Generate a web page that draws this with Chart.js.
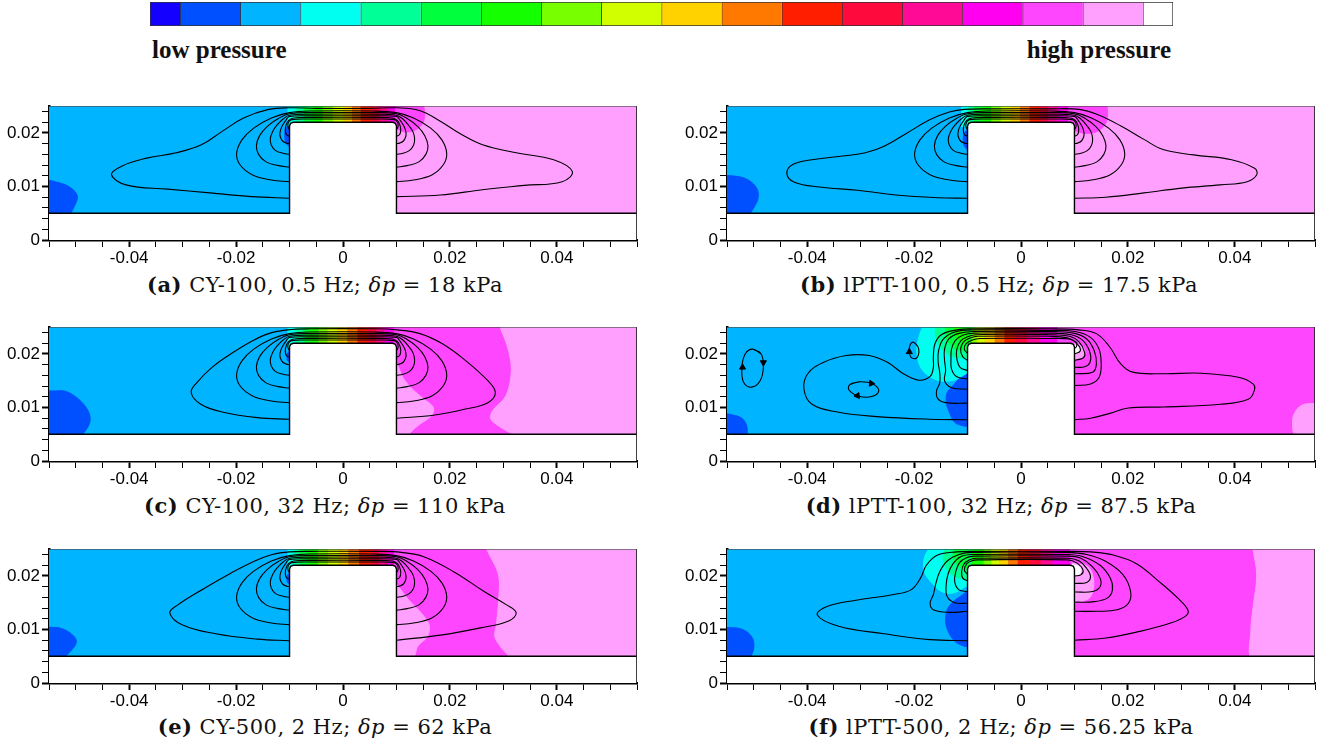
<!DOCTYPE html>
<html>
<head>
<meta charset="utf-8">
<title>Pressure contours and streamlines</title>
<script src="https://cdn.jsdelivr.net/npm/chart.js"></script>
<style>
  body { margin:0; background:#fff; width:1331px; height:755px; position:relative; overflow:hidden; }
  canvas { position:absolute; }
  .end { position:absolute; top:37px; font-family:'Liberation Serif', serif; font-weight:bold; font-size:25px; line-height:25px; color:#111; white-space:nowrap; }
  .cap { position:absolute; font-family:'DejaVu Serif', serif; font-size:21px; line-height:24px; letter-spacing:0.5px; color:#111; white-space:nowrap; transform:translateX(-50%); }
  .cap i { font-style:italic; }
</style>
</head>
<body>
<canvas id="bar" width="1023" height="24" style="left:150px;top:2px"></canvas>
<div class="end" style="left:152px">low pressure</div>
<div class="end" style="right:160px">high pressure</div>

<canvas id="pa" width="647" height="176"></canvas>
<canvas id="pb" width="647" height="176"></canvas>
<canvas id="pc" width="647" height="176"></canvas>
<canvas id="pd" width="647" height="176"></canvas>
<canvas id="pe" width="647" height="176"></canvas>
<canvas id="pf" width="647" height="176"></canvas>

<div class="cap" style="left:325px;top:273px"><b>(a)</b> CY-100, 0.5 Hz; <i>δp</i> = 18 kPa</div>
<div class="cap" style="left:999px;top:273px"><b>(b)</b> lPTT-100, 0.5 Hz; <i>δp</i> = 17.5 kPa</div>
<div class="cap" style="left:325px;top:494px"><b>(c)</b> CY-100, 32 Hz; <i>δp</i> = 110 kPa</div>
<div class="cap" style="left:1001px;top:494px"><b>(d)</b> lPTT-100, 32 Hz; <i>δp</i> = 87.5 kPa</div>
<div class="cap" style="left:325px;top:715px"><b>(e)</b> CY-500, 2 Hz; <i>δp</i> = 62 kPa</div>
<div class="cap" style="left:1001px;top:715px"><b>(f)</b> lPTT-500, 2 Hz; <i>δp</i> = 56.25 kPa</div>

<script>
// ---------------- levels ----------------
const levelColors = ['#1400ff','#0050ff','#00b4ff','#00fff0','#00ff96','#00ff3c','#14ff00','#78ff00','#d2ff00',
                     '#ffd200','#ff7800','#ff1e00','#ff0a3c','#ff0a96','#ff00f0','#ff46ff','#ffa0ff','#ffffff'];
const levelSpan = [0.5,1,1,1,1,1,1,1,1,1,1,1,1,1,1,1,1,0.5];

// ---------------- axes ----------------
const xTickValues = [-0.04, -0.02, 0, 0.02, 0.04];
const xTickLabels = ['-0.04', '-0.02', '0', '0.02', '0.04'];
const yTickValues = [0, 0.01, 0.02];
const yTickLabels = ['0', '0.01', '0.02'];

// channel wall + block (x, y pairs, metres)
const solidShape = [-0.056,-0.001, -0.056,0.005, -0.0100,0.005, -0.0100,0.0213, -0.0098,0.0218, -0.0093,0.0220,
                    0.0093,0.0220, 0.0098,0.0218, 0.0100,0.0213, 0.0100,0.005, 0.056,0.005, 0.056,-0.001];
const frameLine = [-0.055,0.025, 0.055,0.025, 0.055,0];

// ---------------- streamlines ----------------
// nested loops around the block, same in a, b, c, e
const innerLoops = [
  [-0.0100,0.0109, -0.0134,0.0112, -0.0170,0.0122, -0.0193,0.0141, -0.0199,0.0162, -0.0189,0.0187, -0.0167,0.0209, -0.0134,0.0228, -0.0100,0.0238, -0.0056,0.0241,
    0.0056,0.0241, 0.0100,0.0238, 0.0132,0.0228, 0.0164,0.0209, 0.0185,0.0187, 0.0194,0.0162, 0.0188,0.0141, 0.0167,0.0122, 0.0132,0.0112, 0.0100,0.0109],
  [-0.0100,0.0136, -0.0121,0.0139, -0.0144,0.0146, -0.0158,0.0160, -0.0162,0.0176, -0.0156,0.0195, -0.0142,0.0212, -0.0121,0.0227, -0.0100,0.0236, -0.0056,0.0238,
    0.0056,0.0238, 0.0100,0.0236, 0.0120,0.0227, 0.0140,0.0212, 0.0153,0.0195, 0.0159,0.0176, 0.0155,0.0160, 0.0142,0.0146, 0.0120,0.0139, 0.0100,0.0136],
  [-0.0100,0.0160, -0.0112,0.0162, -0.0126,0.0167, -0.0134,0.0177, -0.0136,0.0189, -0.0132,0.0202, -0.0124,0.0214, -0.0112,0.0226, -0.0100,0.0233, -0.0056,0.0235,
    0.0056,0.0235, 0.0100,0.0233, 0.0112,0.0226, 0.0123,0.0214, 0.0131,0.0202, 0.0134,0.0189, 0.0132,0.0177, 0.0124,0.0167, 0.0112,0.0162, 0.0100,0.0160],
  [-0.0100,0.0180, -0.0106,0.0181, -0.0113,0.0185, -0.0117,0.0192, -0.0118,0.0199, -0.0116,0.0208, -0.0112,0.0216, -0.0106,0.0225, -0.0100,0.0231, -0.0056,0.0232,
    0.0056,0.0232, 0.0100,0.0231, 0.0106,0.0225, 0.0112,0.0216, 0.0116,0.0208, 0.0118,0.0199, 0.0117,0.0192, 0.0113,0.0185, 0.0106,0.0181, 0.0100,0.0180],
  [-0.0100,0.0194, -0.0106,0.0197, -0.0108,0.0206, -0.0106,0.0216, -0.0101,0.0224, -0.0092,0.0228, -0.0056,0.0229,
    0.0056,0.0229, 0.0092,0.0228, 0.0101,0.0224, 0.0106,0.0216, 0.0108,0.0206, 0.0106,0.0197, 0.0100,0.0194],
  [-0.0100,0.0206, -0.0103,0.0212, -0.0102,0.0220, -0.0096,0.0225, -0.0056,0.0226,
    0.0056,0.0226, 0.0096,0.0225, 0.0102,0.0220, 0.0103,0.0212, 0.0100,0.0206]
];

const outerLoopA = [-0.0100,0.0078, -0.0171,0.0081, -0.0249,0.0088, -0.0328,0.0095, -0.0406,0.0103, -0.0433,0.0122, -0.0414,0.0138, -0.0367,0.0153,
  -0.0312,0.0163, -0.0265,0.0178, -0.0226,0.0203, -0.0186,0.0228, -0.0139,0.0244, -0.0100,0.0247, -0.0050,0.0246, 0.0050,0.0246, 0.0100,0.0247,
  0.0143,0.0242, 0.0182,0.0222, 0.0222,0.0197, 0.0261,0.0178, 0.0324,0.0163, 0.0394,0.0150, 0.0429,0.0128, 0.0410,0.0109, 0.0339,0.0102,
  0.0261,0.0094, 0.0182,0.0084, 0.0100,0.0081];

const outerLoopB = [-0.0100,0.0078, -0.0156,0.0079, -0.0234,0.0084, -0.0306,0.0093, -0.0377,0.0099, -0.0424,0.0108, -0.0438,0.0124, -0.0427,0.0141,
  -0.0391,0.0150, -0.0341,0.0156, -0.0291,0.0163, -0.0256,0.0175, -0.0213,0.0200, -0.0170,0.0225, -0.0134,0.0239, -0.0106,0.0244, -0.0056,0.0245,
  0.0051,0.0245, 0.0109,0.0244, 0.0144,0.0234, 0.0187,0.0213, 0.0230,0.0188, 0.0266,0.0169, 0.0323,0.0159, 0.0394,0.0150, 0.0437,0.0134,
  0.0441,0.0122, 0.0423,0.0109, 0.0373,0.0103, 0.0301,0.0097, 0.0230,0.0088, 0.0159,0.0080, 0.0100,0.0078];

const outerLoopC = [-0.0100,0.0078, -0.0160,0.0081, -0.0224,0.0091, -0.0266,0.0106, -0.0284,0.0128, -0.0273,0.0147, -0.0245,0.0175, -0.0210,0.0200,
  -0.0174,0.0222, -0.0139,0.0238, -0.0104,0.0245, -0.0061,0.0247, 0.0059,0.0247, 0.0101,0.0245, 0.0144,0.0238, 0.0186,0.0219, 0.0229,0.0188,
  0.0271,0.0150, 0.0285,0.0128, 0.0271,0.0109, 0.0229,0.0097, 0.0172,0.0086, 0.0100,0.0080];

const outerLoopE = [-0.0100,0.0079, -0.0160,0.0082, -0.0238,0.0092, -0.0301,0.0109, -0.0324,0.0131, -0.0309,0.0146, -0.0259,0.0177, -0.0210,0.0205,
  -0.0167,0.0227, -0.0132,0.0240, -0.0100,0.0245, -0.0061,0.0246, 0.0066,0.0246, 0.0109,0.0244, 0.0151,0.0236, 0.0207,0.0208, 0.0264,0.0171,
  0.0306,0.0146, 0.0324,0.0131, 0.0310,0.0116, 0.0257,0.0103, 0.0186,0.0090, 0.0100,0.0080];

const loopsD = [
  [-0.0100,0.0077, -0.0170,0.0078, -0.0270,0.0083, -0.0341,0.0091, -0.0391,0.0106, -0.0406,0.0134, -0.0399,0.0163, -0.0370,0.0184, -0.0327,0.0197,
   -0.0284,0.0197, -0.0249,0.0184, -0.0220,0.0163, -0.0191,0.0151, -0.0170,0.0158, -0.0164,0.0175, -0.0164,0.0194, -0.0161,0.0219, -0.0149,0.0236,
   -0.0120,0.0245, -0.0091,0.0247, 0.0051,0.0247, 0.0108,0.0245, 0.0141,0.0238, 0.0166,0.0213, 0.0187,0.0181, 0.0209,0.0166, 0.0266,0.0163,
   0.0337,0.0164, 0.0409,0.0156, 0.0434,0.0144, 0.0437,0.0134, 0.0426,0.0116, 0.0373,0.0106, 0.0266,0.0101, 0.0201,0.0099, 0.0166,0.0089,
   0.0130,0.0080, 0.0100,0.0077],
  [-0.0100,0.0108, -0.0141,0.0109, -0.0156,0.0117, -0.0158,0.0131, -0.0152,0.0146, -0.0152,0.0165, -0.0155,0.0185, -0.0154,0.0207, -0.0145,0.0228,
   -0.0124,0.0241, -0.0091,0.0245, 0.0051,0.0244, 0.0101,0.0242, 0.0130,0.0231, 0.0146,0.0209, 0.0150,0.0181, 0.0146,0.0156, 0.0130,0.0144, 0.0100,0.0141],
  [-0.0100,0.0134, -0.0130,0.0137, -0.0143,0.0150, -0.0141,0.0169, -0.0143,0.0188, -0.0143,0.0209, -0.0135,0.0228, -0.0118,0.0238, -0.0091,0.0242,
   0.0051,0.0242, 0.0098,0.0239, 0.0123,0.0228, 0.0137,0.0206, 0.0141,0.0181, 0.0134,0.0166, 0.0100,0.0163],
  [-0.0100,0.0153, -0.0121,0.0158, -0.0130,0.0172, -0.0131,0.0191, -0.0130,0.0209, -0.0123,0.0225, -0.0109,0.0235, -0.0088,0.0239,
   0.0051,0.0239, 0.0094,0.0236, 0.0116,0.0225, 0.0129,0.0203, 0.0129,0.0184, 0.0119,0.0176, 0.0100,0.0175],
  [-0.0100,0.0169, -0.0114,0.0175, -0.0120,0.0191, -0.0120,0.0209, -0.0113,0.0224, -0.0100,0.0232, -0.0084,0.0236,
   0.0051,0.0236, 0.0091,0.0233, 0.0109,0.0222, 0.0119,0.0203, 0.0117,0.0193, 0.0100,0.0188],
  [-0.0100,0.0188, -0.0109,0.0195, -0.0113,0.0209, -0.0107,0.0223, -0.0095,0.0230, -0.0081,0.0233,
   0.0051,0.0233, 0.0087,0.0230, 0.0105,0.0219, 0.0111,0.0206, 0.0100,0.0200],
  [-0.0100,0.0201, -0.0106,0.0209, -0.0103,0.0219, -0.0091,0.0226, -0.0077,0.0229,
   0.0051,0.0229, 0.0090,0.0228, 0.0103,0.0222, 0.0104,0.0214, 0.0100,0.0210],
  // recirculation cells
  [-0.0502,0.0209, -0.0486,0.0200, -0.0482,0.0175, -0.0488,0.0150, -0.0504,0.0138, -0.0519,0.0147, -0.0522,0.0175, -0.0516,0.0200, -0.0502,0.0209, -0.0486,0.0200],
  [-0.0201,0.0222, -0.0193,0.0214, -0.0191,0.0203, -0.0196,0.0192, -0.0206,0.0194, -0.0209,0.0206, -0.0207,0.0218, -0.0201,0.0222, -0.0193,0.0214],
  [-0.0320,0.0143, -0.0302,0.0148, -0.0277,0.0144, -0.0266,0.0131, -0.0281,0.0120, -0.0306,0.0122, -0.0322,0.0133, -0.0320,0.0143, -0.0302,0.0148]
];
// arrow heads on the cells: x, y, rotation (deg)
const arrowsD = [[-0.0521,0.0175,0], [-0.0482,0.0184,180], [-0.0209,0.0204,0], [-0.0306,0.0122,-95], [-0.0280,0.0145,95]];

const loopsF = [
  [-0.0100,0.0079, -0.0170,0.0081, -0.0256,0.0092, -0.0341,0.0106, -0.0381,0.0127, -0.0363,0.0143, -0.0306,0.0155, -0.0241,0.0165, -0.0206,0.0174,
   -0.0188,0.0196, -0.0177,0.0220, -0.0156,0.0239, -0.0120,0.0245, -0.0080,0.0246, 0.0087,0.0246, 0.0130,0.0245, 0.0173,0.0239, 0.0216,0.0223,
   0.0259,0.0189, 0.0294,0.0158, 0.0312,0.0137, 0.0309,0.0126, 0.0280,0.0112, 0.0216,0.0095, 0.0159,0.0084, 0.0100,0.0080],
  [-0.0100,0.0134, -0.0134,0.0132, -0.0164,0.0137, -0.0170,0.0149, -0.0164,0.0165, -0.0159,0.0187, -0.0152,0.0208, -0.0138,0.0228, -0.0116,0.0240,
   -0.0091,0.0244, 0.0087,0.0244, 0.0123,0.0240, 0.0159,0.0227, 0.0191,0.0202, 0.0205,0.0171, 0.0201,0.0149, 0.0180,0.0137, 0.0144,0.0134, 0.0100,0.0134],
  [-0.0100,0.0149, -0.0124,0.0150, -0.0138,0.0161, -0.0140,0.0183, -0.0136,0.0205, -0.0127,0.0223, -0.0113,0.0236, -0.0091,0.0240,
   0.0087,0.0240, 0.0116,0.0236, 0.0148,0.0220, 0.0167,0.0196, 0.0171,0.0174, 0.0162,0.0159, 0.0137,0.0152, 0.0100,0.0151],
  [-0.0100,0.0171, -0.0116,0.0174, -0.0124,0.0189, -0.0122,0.0208, -0.0115,0.0225, -0.0102,0.0234, -0.0088,0.0237,
   0.0087,0.0237, 0.0112,0.0233, 0.0134,0.0217, 0.0148,0.0196, 0.0148,0.0180, 0.0134,0.0171, 0.0100,0.0170],
  [-0.0100,0.0191, -0.0109,0.0196, -0.0111,0.0208, -0.0107,0.0222, -0.0097,0.0230, -0.0084,0.0233,
   0.0087,0.0233, 0.0109,0.0228, 0.0123,0.0214, 0.0130,0.0199, 0.0123,0.0188, 0.0100,0.0186],
  [-0.0100,0.0203, -0.0106,0.0211, -0.0102,0.0222, -0.0093,0.0228, -0.0081,0.0230,
   0.0087,0.0230, 0.0105,0.0224, 0.0116,0.0211, 0.0112,0.0202, 0.0100,0.0200]
];

// ---------------- pressure fill ----------------
// base colour left / right of the block (level numbers 1..18)
const baseA = [3, 17], baseB = [3, 17], baseC = [3, 17], baseD = [3, 16], baseE = [3, 17], baseF = [3, 16];

// vertical colour bands across the gap above the block: first level, band edges in x
const gapA = { first: 4, edges: [-0.0104,-0.0088,-0.0074,-0.0057,-0.0038,-0.0019,0.0000,0.0017,0.0033,0.0052,0.0069,0.0085,0.0100] };
const gapB = { first: 4, edges: [-0.0112,-0.0099,-0.0088,-0.0074,-0.0056,-0.0038,-0.0020,-0.0002,0.0016,0.0034,0.0051,0.0069,0.0091] };
const gapC = { first: 4, edges: [-0.0104,-0.0089,-0.0075,-0.0062,-0.0046,-0.0029,-0.0011,0.0008,0.0027,0.0047,0.0063,0.0078,0.0095] };
const gapD = { first: 8, edges: [-0.0100,-0.0083,-0.0068,-0.0049,-0.0031,-0.0012,0.0011,0.0036,0.0067] };
const gapE = { first: 4, edges: [-0.0104,-0.0093,-0.0082,-0.0065,-0.0047,-0.0028,-0.0008,0.0010,0.0030,0.0052,0.0068,0.0084,0.0099] };
const gapF = { first: 7, edges: [-0.0097,-0.0070,-0.0056,-0.0041,-0.0024,-0.0006,0.0016,0.0037,0.0059,0.0091] };

// contour patches: [level, outline]
const patchesA = [
  [2, [-0.0560,0.0045, -0.0560,0.0109, -0.0535,0.0108, -0.0510,0.0098, -0.0497,0.0082, -0.0503,0.0062, -0.0512,0.0045]],
  [2, [-0.0095,0.0216, -0.0106,0.0210, -0.0109,0.0195, -0.0106,0.0180, -0.0095,0.0172]],
  [16, [0.0099,0.0255, 0.0099,0.0212, 0.0108,0.0204, 0.0122,0.0202, 0.0138,0.0207, 0.0149,0.0218, 0.0153,0.0235, 0.0150,0.0255]]
];
const patchesB = [
  [2, [-0.0560,0.0045, -0.0560,0.0116, -0.0533,0.0119, -0.0510,0.0112, -0.0494,0.0096, -0.0492,0.0078, -0.0500,0.0060, -0.0510,0.0045]],
  [2, [-0.0095,0.0206, -0.0104,0.0203, -0.0108,0.0190, -0.0106,0.0175, -0.0095,0.0165]],
  [16, [0.0090,0.0255, 0.0090,0.0212, 0.0105,0.0203, 0.0125,0.0199, 0.0145,0.0204, 0.0158,0.0217, 0.0162,0.0235, 0.0160,0.0255]]
];
const patchesC = [
  [2, [-0.0560,0.0045, -0.0560,0.0126, -0.0535,0.0131, -0.0518,0.0130, -0.0495,0.0116, -0.0476,0.0092, -0.0474,0.0071, -0.0490,0.0045]],
  [2, [-0.0095,0.0206, -0.0103,0.0203, -0.0105,0.0195, -0.0103,0.0187, -0.0095,0.0184]],
  [16, [0.0095,0.0255, 0.0292,0.0255, 0.0292,0.0250, 0.0306,0.0213, 0.0313,0.0169, 0.0303,0.0122, 0.0278,0.0094, 0.0275,0.0078, 0.0292,0.0063, 0.0317,0.0045, 0.0095,0.0045]],
  [17, [0.0095,0.0183, 0.0101,0.0181, 0.0112,0.0156, 0.0130,0.0134, 0.0151,0.0116, 0.0169,0.0100, 0.0165,0.0084, 0.0144,0.0069, 0.0126,0.0053, 0.0124,0.0045, 0.0095,0.0045]]
];
const patchesD = [
  [2, [-0.0560,0.0045, -0.0560,0.0086, -0.0535,0.0085, -0.0520,0.0078, -0.0513,0.0065, -0.0512,0.0045]],
  [2, [-0.0095,0.0165, -0.0113,0.0156, -0.0127,0.0141, -0.0138,0.0128, -0.0140,0.0110, -0.0134,0.0091, -0.0124,0.0072, -0.0109,0.0066, -0.0095,0.0064]],
  [4, [-0.0182,0.0255, -0.0190,0.0235, -0.0195,0.0205, -0.0186,0.0172, -0.0160,0.0152, -0.0130,0.0150, -0.0108,0.0160, -0.0095,0.0172, -0.0095,0.0255]],
  [5, [-0.0160,0.0255, -0.0160,0.0235, -0.0152,0.0215, -0.0137,0.0200, -0.0118,0.0193, -0.0095,0.0198, -0.0095,0.0255]],
  [6, [-0.0142,0.0255, -0.0140,0.0232, -0.0130,0.0215, -0.0115,0.0207, -0.0095,0.0210, -0.0095,0.0255]],
  [7, [-0.0125,0.0255, -0.0123,0.0236, -0.0114,0.0225, -0.0100,0.0221, -0.0100,0.0255]],
  [17, [0.0095,0.0219, 0.0108,0.0218, 0.0117,0.0211, 0.0119,0.0200, 0.0112,0.0192, 0.0095,0.0190]],
  [18, [0.0095,0.0216, 0.0106,0.0214, 0.0109,0.0207, 0.0104,0.0201, 0.0095,0.0200]],
  [17, [0.0560,0.0045, 0.0515,0.0045, 0.0508,0.0075, 0.0515,0.0095, 0.0530,0.0106, 0.0560,0.0107]]
];
const patchesE = [
  [2, [-0.0560,0.0045, -0.0560,0.0102, -0.0545,0.0104, -0.0524,0.0101, -0.0503,0.0087, -0.0499,0.0075, -0.0510,0.0059, -0.0524,0.0045]],
  [2, [-0.0095,0.0206, -0.0103,0.0203, -0.0105,0.0195, -0.0103,0.0187, -0.0095,0.0184]],
  [16, [0.0095,0.0255, 0.0267,0.0255, 0.0267,0.0250, 0.0289,0.0202, 0.0289,0.0152, 0.0285,0.0109, 0.0282,0.0087, 0.0292,0.0069, 0.0308,0.0045, 0.0095,0.0045]],
  [17, [0.0095,0.0185, 0.0101,0.0183, 0.0123,0.0155, 0.0147,0.0130, 0.0161,0.0109, 0.0158,0.0087, 0.0140,0.0069, 0.0130,0.0045, 0.0095,0.0045]]
];
const patchesF = [
  [2, [-0.0560,0.0045, -0.0560,0.0099, -0.0535,0.0103, -0.0515,0.0097, -0.0502,0.0083, -0.0500,0.0065, -0.0507,0.0045]],
  [2, [-0.0095,0.0177, -0.0109,0.0165, -0.0127,0.0152, -0.0138,0.0137, -0.0141,0.0115, -0.0136,0.0096, -0.0124,0.0078, -0.0107,0.0069, -0.0095,0.0067]],
  [4, [-0.0170,0.0255, -0.0181,0.0233, -0.0181,0.0208, -0.0166,0.0186, -0.0149,0.0171, -0.0127,0.0168, -0.0109,0.0177, -0.0095,0.0189, -0.0095,0.0255]],
  [5, [-0.0141,0.0255, -0.0146,0.0235, -0.0140,0.0215, -0.0125,0.0200, -0.0108,0.0195, -0.0095,0.0197, -0.0095,0.0255]],
  [6, [-0.0125,0.0255, -0.0127,0.0236, -0.0120,0.0222, -0.0108,0.0213, -0.0097,0.0212, -0.0097,0.0255]],
  [17, [0.0434,0.0255, 0.0434,0.0250, 0.0441,0.0202, 0.0434,0.0140, 0.0430,0.0097, 0.0434,0.0045, 0.0560,0.0045, 0.0560,0.0255]],
  [17, [0.0095,0.0224, 0.0126,0.0217, 0.0136,0.0189, 0.0130,0.0161, 0.0112,0.0152, 0.0095,0.0149]],
  [18, [0.0095,0.0221, 0.0108,0.0218, 0.0112,0.0210, 0.0108,0.0203, 0.0095,0.0202]]
];

// ---------------- helpers ----------------
function pts(flat) {
  const out = [];
  for (let i = 0; i < flat.length; i += 2) out.push({ x: flat[i], y: flat[i + 1] });
  return out;
}
function area(flat, level, tension) {
  const c = levelColors[level - 1];
  return { data: pts(flat), showLine: true, fill: 'shape', backgroundColor: c, borderColor: c,
           borderWidth: 1, pointRadius: 0, tension: tension };
}
function curve(flat, width) {
  return { data: pts(flat), showLine: true, fill: false, borderColor: '#000', borderWidth: width,
           pointRadius: 0, tension: 0.4 };
}
function rect(x0, x1, y0, y1) { return [x0, y0, x1, y0, x1, y1, x0, y1]; }
function near(list, v) { return list.findIndex(t => Math.abs(t - v) < 1e-6); }

const tickFont = { family: 'Liberation Sans', size: 17 };
const PAD_TOP = 12;

function panel(id, left, top, base, gap, patches, lines, arrows) {
  const cv = document.getElementById(id);
  cv.style.left = (left - 49) + 'px';
  cv.style.top = (top - PAD_TOP) + 'px';

  const ds = [];
  ds.push(area(rect(-0.056, 0, 0.0045, 0.0255), base[0], 0));
  ds.push(area(rect(0, 0.056, 0.0045, 0.0255), base[1], 0));
  for (let i = 0; i < gap.edges.length - 1; i++) {
    ds.push(area(rect(gap.edges[i], gap.edges[i + 1], 0.0212, 0.0255), gap.first + i, 0));
  }
  patches.forEach(p => ds.push(area(p[1], p[0], 0.35)));

  // solid wall and block
  ds.push({ data: pts(solidShape), showLine: true, fill: 'shape', backgroundColor: '#fff',
            borderColor: '#000', borderWidth: 1.4, pointRadius: 0, tension: 0 });
  ds.push({ data: pts(frameLine), showLine: true, fill: false, borderColor: '#222',
            borderWidth: 1, pointRadius: 0, tension: 0 });
  lines.forEach(l => ds.push(curve(l, 1.1)));
  if (arrows) {
    ds.push({ data: arrows.map(a => ({ x: a[0], y: a[1] })), showLine: false, pointStyle: 'triangle',
              pointRadius: 3.5, pointRotation: arrows.map(a => a[2]), backgroundColor: '#000',
              borderColor: '#000', borderWidth: 1 });
  }
  // first pushed is drawn first
  ds.forEach((d, i) => d.order = ds.length - i);

  new Chart(cv, {
    type: 'scatter',
    data: { datasets: ds },
    options: {
      responsive: false, animation: false, devicePixelRatio: 1, events: [],
      plugins: { legend: { display: false }, tooltip: { enabled: false } },
      layout: { padding: { left: 0, top: PAD_TOP, right: 10, bottom: 0 } },
      scales: {
        x: {
          type: 'linear', min: -0.055, max: 0.055,
          afterFit: s => { s.height = 30; },
          ticks: { stepSize: 0.005, autoSkip: false, maxRotation: 0, padding: 1, color: '#000', font: tickFont,
                   callback: v => { const i = near(xTickValues, v); return i < 0 ? '' : xTickLabels[i]; } },
          grid: { drawOnChartArea: false, drawTicks: true, tickLength: 7, tickColor: '#000',
                  tickWidth: c => near(xTickValues, c.tick.value) < 0 ? 1 : 2 },
          border: { display: true, color: '#000', width: 2.5 }
        },
        y: {
          type: 'linear', min: 0, max: 0.025,
          afterFit: s => { s.width = 49; },
          ticks: { stepSize: 0.002, includeBounds: false, autoSkip: false, padding: 2, color: '#000', font: tickFont,
                   callback: v => { const i = near(yTickValues, v); return i < 0 ? '' : yTickLabels[i]; } },
          grid: { drawOnChartArea: false, drawTicks: true, tickLength: 7, tickColor: '#000',
                  tickWidth: c => near(yTickValues, c.tick.value) < 0 ? 1 : 2 },
          border: { display: true, color: '#000', width: 2.5 }
        }
      }
    }
  });
}

// ---------------- colour bar ----------------
new Chart(document.getElementById('bar'), {
  type: 'bar',
  data: {
    labels: [''],
    datasets: levelColors.map((c, i) => ({
      data: [levelSpan[i]], backgroundColor: c, borderColor: '#333', borderSkipped: false,
      borderWidth: i === levelColors.length - 1 ? 1 : { left: 1, top: 1, bottom: 1, right: 0 },
      barPercentage: 1, categoryPercentage: 1
    }))
  },
  options: {
    indexAxis: 'y', responsive: false, animation: false, devicePixelRatio: 1, events: [],
    plugins: { legend: { display: false }, tooltip: { enabled: false } },
    layout: { padding: 0 },
    scales: {
      x: { stacked: true, min: 0, max: 17, display: false },
      y: { stacked: true, display: false }
    }
  }
});

// ---------------- panels ----------------
panel('pa', 49, 106, baseA, gapA, patchesA, innerLoops.concat([outerLoopA]));
panel('pb', 727, 106, baseB, gapB, patchesB, innerLoops.concat([outerLoopB]));
panel('pc', 49, 327, baseC, gapC, patchesC, innerLoops.concat([outerLoopC]));
panel('pd', 727, 327, baseD, gapD, patchesD, loopsD, arrowsD);
panel('pe', 49, 549, baseE, gapE, patchesE, innerLoops.concat([outerLoopE]));
panel('pf', 727, 549, baseF, gapF, patchesF, loopsF);
</script>
</body>
</html>
